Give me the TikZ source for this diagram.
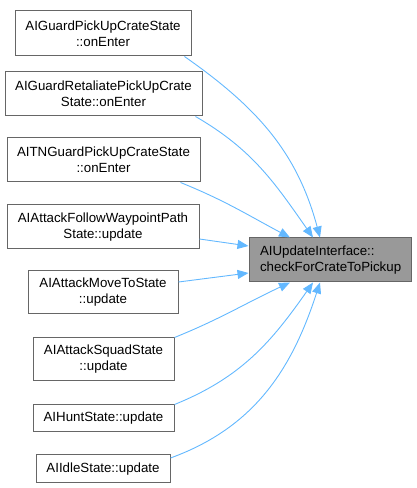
\documentclass[tikz,border=0pt]{standalone}
\usepackage{fontspec}
\setmainfont{Liberation Sans}
\usetikzlibrary{arrows.meta}
\definecolor{edgeblue}{RGB}{99,184,255}
\definecolor{boxborder}{RGB}{102,102,102}
\definecolor{tfill}{RGB}{153,153,153}
\tikzset{
  fn/.style={draw=boxborder, line width=1pt, fill=white, inner sep=0pt, align=center,
    font=\fontsize{13.3}{16}\selectfont, text=black},
  tgt/.style={fn, fill=tfill, align=left},
  edge/.style={draw=edgeblue, line width=0.9pt, -{Triangle[length=11pt,width=9pt]}}
}
\begin{document}
\begin{tikzpicture}[x=1pt,y=1pt]
\useasboundingbox (0,0) rectangle (416,488);
\node[fn, minimum width=176pt, minimum height=45pt] (n1) at (103,454.5) {AIGuardPickUpCrateState\\::onEnter};
\node[fn, minimum width=197pt, minimum height=44pt] (n2) at (103.5,394) {AIGuardRetaliatePickUpCrate\\State::onEnter};
\node[fn, minimum width=193pt, minimum height=44pt] (n3) at (103.5,328) {AITNGuardPickUpCrateState\\::onEnter};
\node[fn, minimum width=192pt, minimum height=44pt] (n4) at (103,261) {AIAttackFollowWaypointPath\\State::update};
\node[fn, minimum width=150pt, minimum height=43pt] (n5) at (103,195.5) {AIAttackMoveToState\\::update};
\node[fn, minimum width=141pt, minimum height=43pt] (n6) at (103.5,128.5) {AIAttackSquadState\\::update};
\node[fn, minimum width=141pt, minimum height=27pt] (n7) at (103.5,69.5) {AIHuntState::update};
\node[fn, minimum width=134pt, minimum height=28pt] (n8) at (103,19) {AIIdleState::update};
\node[tgt, minimum width=162pt, minimum height=44pt, text width=140pt] (t) at (330,228) {AIUpdateInterface::\\checkForCrateToPickup};

\draw[edge] ([xshift=-7pt]n1.south east) to[out=-35,in=105] ([xshift=-10pt]t.north);
\draw[edge] ([xshift=-7pt]n2.south east) to[out=-30,in=125] ([xshift=-17pt]t.north);
\draw[edge] ([xshift=-20pt]n3.south east) to[out=-22,in=152] ([xshift=-40pt]t.north);
\draw[edge] ([yshift=-12pt]n4.east) -- ([yshift=14pt]t.west);
\draw[edge] ([yshift=10.5pt]n5.east) -- ([yshift=-13pt]t.west);
\draw[edge] (n6.north east) to[out=22,in=-155] ([xshift=-40pt]t.south);
\draw[edge] (n7.north east) to[out=22,in=-125] ([xshift=-17pt]t.south);
\draw[edge] ([yshift=11pt]n8.east) to[out=20,in=-108] ([xshift=-10pt]t.south);
\end{tikzpicture}
\end{document}
